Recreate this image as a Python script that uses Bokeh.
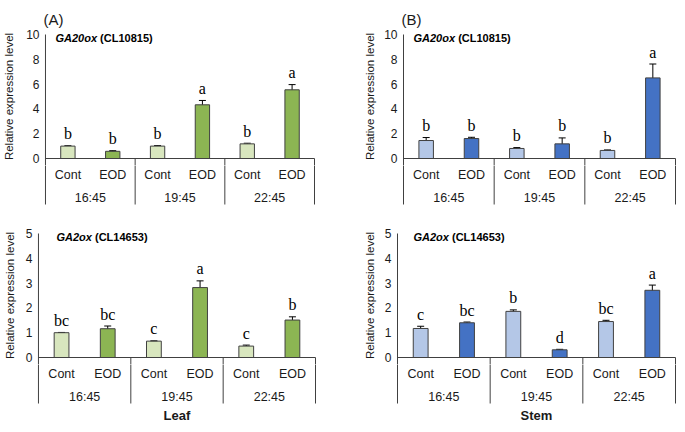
import math
from bokeh.plotting import figure
from bokeh.models import ColumnDataSource, Range1d, Whisker, TeeHead, FixedTicker, Title
from bokeh.layouts import row, column
from bokeh.embed import file_html
from bokeh.resources import INLINE
from bokeh.core.properties import value

# ---------------- data ----------------
times = ["16:45", "19:45", "22:45"]
treatments = ["Cont", "EOD"]

leaf_ga20ox_mean = [1.00, 0.58, 1.00, 4.33, 1.18, 5.54]
leaf_ga20ox_err = [0.03, 0.05, 0.04, 0.35, 0.05, 0.42]
leaf_ga20ox_letters = ["b", "b", "b", "a", "b", "a"]

stem_ga20ox_mean = [1.45, 1.61, 0.81, 1.18, 0.65, 6.50]
stem_ga20ox_err = [0.24, 0.10, 0.07, 0.48, 0.04, 1.12]
stem_ga20ox_letters = ["b", "b", "b", "b", "b", "a"]

leaf_ga2ox_mean = [1.00, 1.16, 0.66, 2.82, 0.46, 1.51]
leaf_ga2ox_err = [0.01, 0.11, 0.01, 0.27, 0.04, 0.13]
leaf_ga2ox_letters = ["bc", "bc", "c", "a", "c", "b"]

stem_ga2ox_mean = [1.17, 1.40, 1.86, 0.31, 1.45, 2.71]
stem_ga2ox_err = [0.09, 0.03, 0.06, 0.02, 0.05, 0.21]
stem_ga2ox_letters = ["c", "bc", "b", "d", "bc", "a"]

leaf_colors = ["#d8e6be", "#8cb553"]
stem_colors = ["#b4c7e7", "#4472c4"]

SANS = "Liberation Sans"
SERIF = "Liberation Serif"
AXIS_COLOR = "#404040"
TEXT_COLOR = "#1a1a1a"

BOLD_W = {"G": 778, "A": 722, "2": 556, "0": 556, "o": 611, "x": 556, " ": 278}


def text_width(s, size, table):
    return sum(table.get(ch, 556) for ch in s) * size / 1000.0


def make_panel(means, errs, letters, colors, gene, code, ymax, ystep, spec,
               tag=None, tissue=None):
    fw, fh, x0, x3, y0, yM, sep_b, title_standoff, gene_dx, tissue_dy = spec
    ux = (x3 - x0) / 3.0
    uy = (y0 - yM) / float(ymax)
    fl, fr = x0 - 3, x3 + 1
    ft = yM - 7
    uh = y0 + 7                      # height of the upper (plot) figure
    xr = Range1d(-(x0 - fl) / ux, 3 + (fr - x3) / ux)

    # ---------- upper figure: bars ----------
    p = figure(width=fw, height=uh, output_backend="svg", toolbar_location=None,
               x_range=xr, y_range=Range1d(-(uh - y0) / uy, (y0 - ft) / uy),
               x_axis_type=None,
               min_border_left=fl, min_border_right=fw - fr,
               min_border_top=ft, min_border_bottom=0)
    p.outline_line_color = None
    p.grid.visible = False

    ax = p.yaxis[0]
    ax.ticker = FixedTicker(ticks=list(range(0, ymax + 1, ystep)))
    ax.bounds = (0, ymax)
    ax.axis_line_color = None
    ax.major_tick_line_color = None
    ax.minor_tick_line_color = None
    ax.major_tick_out = 0
    ax.major_tick_in = 0
    ax.minor_tick_out = 0
    ax.minor_tick_in = 0
    ax.major_label_standoff = 3
    ax.major_label_text_font = SANS
    ax.major_label_text_font_size = "12px"
    ax.major_label_text_color = TEXT_COLOR
    ax.axis_label = "Relative expression level"
    ax.axis_label_text_font = SANS
    ax.axis_label_text_font_size = "11.5px"
    ax.axis_label_text_font_style = "normal"
    ax.axis_label_text_color = TEXT_COLOR
    ax.axis_label_standoff = title_standoff

    xs = [i + (j + 0.5) / 2.0 for i in range(len(times)) for j in range(len(treatments))]
    fills = [colors[j] for i in range(len(times)) for j in range(len(treatments))]
    upper = [m + e for m, e in zip(means, errs)]
    lower = [m - e for m, e in zip(means, errs)]

    src = ColumnDataSource(dict(x=xs, top=means, upper=upper, lower=lower,
                                fill=fills, letter=letters))
    p.vbar(x="x", top="top", bottom=0, width=0.16, fill_color="fill",
           line_color=AXIS_COLOR, line_width=1, source=src)

    wh = Whisker(source=src, base="x", upper="upper", lower="lower",
                 line_color="black", line_width=1,
                 upper_head=TeeHead(size=7, line_color="black", line_width=1),
                 lower_head=TeeHead(size=7, line_color="black", line_width=1))
    p.add_layout(wh)

    p.text(x="x", y="upper", text="letter", source=src,
           text_font=value(SERIF), text_font_size="16px", text_color="black",
           text_align="center", text_baseline="alphabetic", y_offset=-12)

    ybot = -(uh - y0) / uy
    p.segment(x0=[0], y0=[0], x1=[3], y1=[0], line_color=AXIS_COLOR, line_width=1)
    p.segment(x0=[0], y0=[ybot], x1=[0], y1=[ymax], line_color=AXIS_COLOR, line_width=1)
    p.segment(x0=[1, 2, 3], y0=[0, 0, 0], x1=[1, 2, 3], y1=[ybot] * 3,
              line_color=AXIS_COLOR, line_width=1)

    gy = ymax - 3 / uy
    p.text(x=[0], y=[gy], text=[gene], x_offset=gene_dx,
           text_font=value(SANS), text_font_size="11px", text_font_style="bold italic",
           text_color="black", text_align="left", text_baseline="middle")
    p.text(x=[0], y=[gy], text=[code], x_offset=gene_dx + text_width(gene + " ", 11, BOLD_W),
           text_font=value(SANS), text_font_size="11px", text_font_style="bold",
           text_color="black", text_align="left", text_baseline="middle")

    if tag is not None:
        t = Title(text=tag, align="left", offset=1, standoff=0,
                  text_font=SANS, text_font_size="15px", text_font_style="normal",
                  text_color=TEXT_COLOR)
        p.add_layout(t, "above")

    # ---------- lower figure: category axis (units: pixels below the baseline) ----------
    lh = fh - uh
    q = figure(width=fw, height=lh, output_backend="svg", toolbar_location=None,
               x_range=xr, y_range=Range1d(-(fh - y0), -(uh - y0)),
               x_axis_type=None, y_axis_type=None,
               min_border_left=fl, min_border_right=fw - fr,
               min_border_top=0, min_border_bottom=0)
    q.outline_line_color = None
    q.grid.visible = False
    sb = -(sep_b - y0)
    q.segment(x0=[0, 1, 2, 3], y0=[0, 0, 0, 0], x1=[0, 1, 2, 3], y1=[sb] * 4,
              line_color=AXIS_COLOR, line_width=1)
    q.text(x=xs, y=[-16] * len(xs), text=treatments * len(times),
           text_font=value(SANS), text_font_size="12.5px", text_color=TEXT_COLOR,
           text_align="center", text_baseline="middle")
    q.text(x=[i + 0.5 for i in range(len(times))], y=[-39] * len(times), text=times,
           text_font=value(SANS), text_font_size="12.5px", text_color=TEXT_COLOR,
           text_align="center", text_baseline="middle")
    if tissue is not None:
        q.text(x=[1.5], y=[-tissue_dy], text=[tissue],
               text_font=value(SANS), text_font_size="13px", text_font_style="bold",
               text_color=TEXT_COLOR, text_align="center", text_baseline="middle")
    return column(p, q)


# spec: fig w, fig h, x of 0, x of 3, y of 0, y of ymax, separator bottom,
#       y-title standoff, gene dx, tissue label distance below baseline
pa_top = make_panel(leaf_ga20ox_mean, leaf_ga20ox_err, leaf_ga20ox_letters, leaf_colors,
                    "GA20ox", "(CL10815)", 10, 2,
                    (332, 210, 43, 314, 158, 34, 204, 8, 10, 0), tag="(A)")
pb_top = make_panel(stem_ga20ox_mean, stem_ga20ox_err, stem_ga20ox_letters, stem_colors,
                    "GA20ox", "(CL10815)", 10, 2,
                    (344, 210, 71, 343, 158, 34, 204, 5, 10, 0), tag="(B)")
pa_bot = make_panel(leaf_ga2ox_mean, leaf_ga2ox_err, leaf_ga2ox_letters, leaf_colors,
                    "GA2ox", "(CL14653)", 5, 1,
                    (332, 214, 35, 315, 147, 23, 193, 7, 18, 58), tissue="Leaf")
pb_bot = make_panel(stem_ga2ox_mean, stem_ga2ox_err, stem_ga2ox_letters, stem_colors,
                    "GA2ox", "(CL14653)", 5, 1,
                    (344, 214, 65, 343, 147, 23, 193, 6, 16, 58), tissue="Stem")

layout = column(row(pa_top, pb_top), row(pa_bot, pb_bot))

open("out.html", "w").write(file_html(layout, INLINE))
